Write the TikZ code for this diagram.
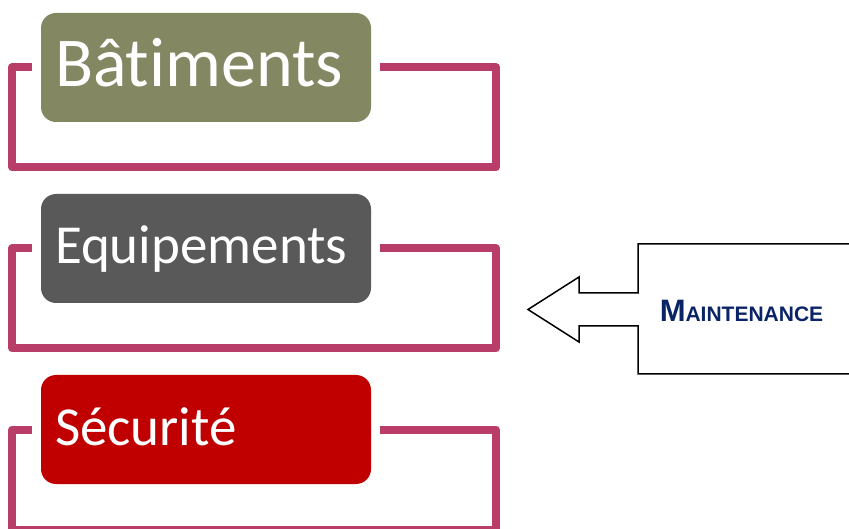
\documentclass[tikz,border=0pt]{standalone}
\usepackage{fontspec}
\setmainfont{Carlito}[Ligatures={NoCommon}]
\newfontfamily\maintfont{Liberation Sans}
\definecolor{batfill}{HTML}{848862}
\definecolor{equfill}{HTML}{595959}
\definecolor{secfill}{HTML}{C00000}
\definecolor{framecol}{HTML}{B83D68}
\definecolor{maintblue}{HTML}{0B2466}
\tikzset{
  catbox/.style={rounded corners=15pt, minimum width=330pt, minimum height=109pt,
    text width=302pt, align=left, inner xsep=14pt, inner ysep=0pt,
    text=white, text depth=0pt},
  frameline/.style={draw=framecol, line width=8pt, line join=round},
}
\begin{document}
\begin{tikzpicture}[x=1pt,y=-1pt]
      \useasboundingbox (0,0) rectangle (849,529);
      \clip (0,0) rectangle (849,529);
      \node[catbox, fill=batfill, font=\fontsize{70}{80}\selectfont, text height=39pt]
        (bat) at (206,67.5) {Bâtiments};
      \node[catbox, fill=equfill, font=\fontsize{55}{64}\selectfont, text height=31pt]
        (equ) at (206,248.5) {Equipements};
      \node[catbox, fill=secfill, font=\fontsize{55}{64}\selectfont, text height=31pt]
        (sec) at (206,429.5) {Sécurité};
      \begin{scope}[frameline]
        \draw ([xshift=-8.5pt]bat.west) -- ++(-20,0) -- ++(0,100) -- ++(483.5,0)
          -- ++(0,-100) -- ([xshift=9pt]bat.east);
        \draw ([xshift=-8.5pt]equ.west) -- ++(-20,0) -- ++(0,100) -- ++(483.5,0)
          -- ++(0,-100) -- ([xshift=9pt]equ.east);
        \draw ([xshift=-8.5pt]sec.west) -- ++(-20,0) -- ++(0,100) -- ++(483.5,0)
          -- ++(0,-100) -- ([xshift=9pt]sec.east);
      \end{scope}
      % callout
      \draw[line width=1.5pt, line join=miter] (860,244) -- (638,244) -- (638,293)
        -- (579,293) -- (579,277) -- (528,309.5) -- (579,342) -- (579,326)
        -- (638,326) -- (638,374) -- (860,374);
      \node[anchor=base, inner sep=0pt, text=maintblue, font=\maintfont\bfseries]
        (maint) at (741.5,322)
        {{\fontsize{31}{36}\selectfont M}{\fontsize{21}{24}\selectfont AINTENANCE}};
    \end{tikzpicture}
\end{document}
